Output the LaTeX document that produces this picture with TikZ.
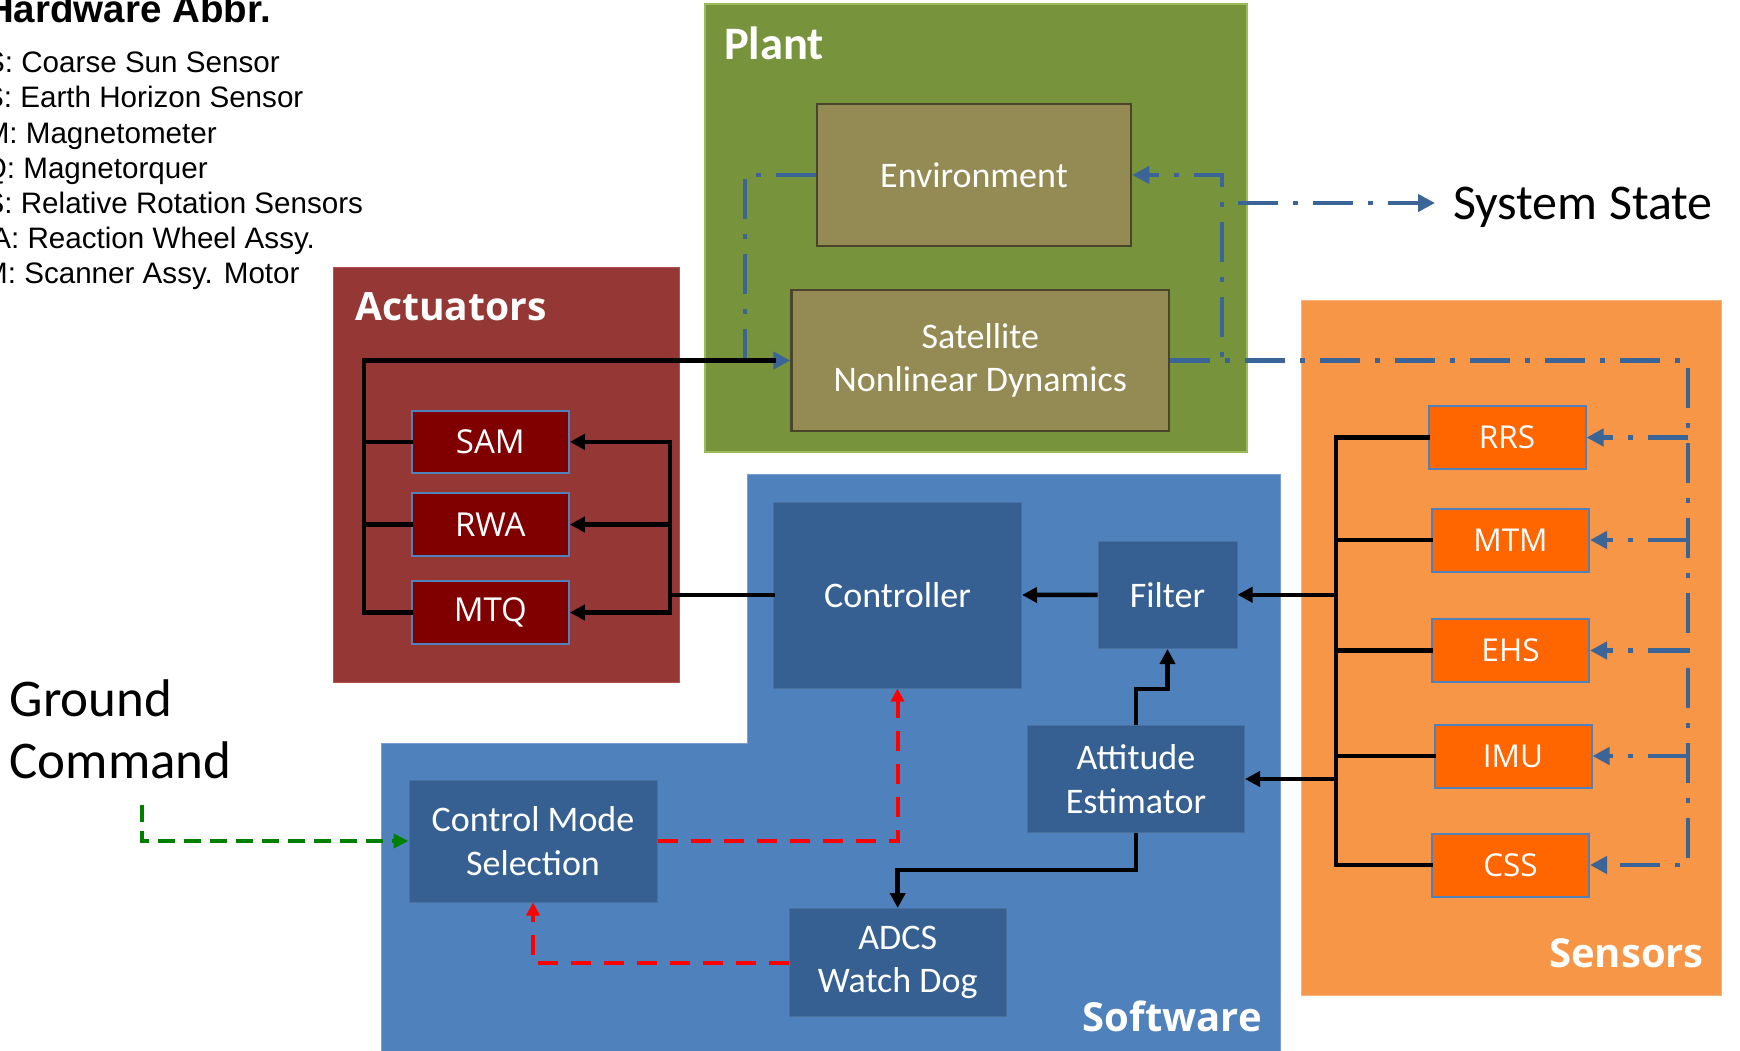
\documentclass[tikz,border=0pt]{standalone}
\usepackage{fontspec}
\setmainfont{Liberation Sans}
\newfontfamily\calfont{Carlito}
\newfontfamily\opfont{Open Sans}
\usetikzlibrary{arrows.meta,calc}

\definecolor{plantc}{HTML}{77933C}
\definecolor{plantedge}{HTML}{9BBB59}
\definecolor{envc}{HTML}{948A54}
\definecolor{envedge}{HTML}{4A452A}
\definecolor{actc}{HTML}{953735}
\definecolor{actedge}{HTML}{B9504D}
\definecolor{actin}{HTML}{800000}
\definecolor{swc}{HTML}{4F81BD}
\definecolor{swedge}{HTML}{7A9ED0}
\definecolor{swin}{HTML}{366092}
\definecolor{sensc}{HTML}{F79646}
\definecolor{sensedge}{HTML}{F9B27F}
\definecolor{sensin}{HTML}{FF6600}
\definecolor{boxedge}{HTML}{4F81BD}
\definecolor{ddc}{HTML}{3B6497}
\definecolor{redc}{HTML}{FF0000}
\definecolor{greenc}{HTML}{008000}

\begin{document}
\begin{tikzpicture}[x=1pt,y=-1pt,
  region/.style={inner sep=0pt,outer sep=0pt},
  blk/.style={line width=4.5pt,black,line cap=rect},
  blkarr/.style={line width=4.5pt,black,-{Triangle[length=15pt,width=15pt]}},
  ddash/.style={line width=4.3pt,color=ddc,dash pattern=on 40pt off 15pt on 5pt off 15pt},
  ddarr/.style={ddash,-{Triangle[length=17pt,width=17pt]}},
  reddash/.style={line width=4pt,color=redc,dash pattern=on 20pt off 13pt,-{Triangle[length=13pt,width=13pt]}},
  greendash/.style={line width=4pt,color=greenc,dash pattern=on 17pt off 9pt,-{Triangle[length=15pt,width=14pt]}},
  plantbox/.style={draw=envedge,line width=2.5pt,fill=envc,text=white,align=center,inner sep=0pt,
    font=\calfont\fontsize{36}{43.5}\selectfont},
  swbox/.style={draw=swin!90!white,line width=1pt,fill=swin,text=white,align=center,inner sep=0pt,
    font=\calfont\fontsize{36}{43.5}\selectfont},
  sensbox/.style={draw=boxedge,line width=2pt,fill=sensin,text=white,inner sep=0pt,
    minimum width=157pt,minimum height=63pt,font=\opfont\fontsize{31.5}{36}\selectfont},
  actbox/.style={draw=boxedge,line width=2pt,fill=actin,text=white,inner sep=0pt,
    minimum width=157pt,minimum height=62.5pt,font=\opfont\fontsize{33}{38}\selectfont},
  grouptitle/.style={inner sep=0pt,text=white,font=\opfont\bfseries\fontsize{40}{46}\selectfont},
  legend/.style={anchor=base west,inner sep=0pt,font=\fontsize{29.6}{35}\selectfont},
  bigtext/.style={anchor=base west,inner sep=0pt,font=\calfont\fontsize{53}{62}\selectfont},
]
\clip (0,0) rectangle (1740,1051);
\fill[white] (0,0) rectangle (1740,1051);

% ---------- legend ----------
\node[anchor=base west,inner sep=0pt,font=\bfseries\fontsize{38.5}{42}\selectfont] (legtitle) at (-14,23) {Hardware Abbr.};
\node[legend] (leg1) at (-15,72.7) {S: Coarse Sun Sensor};
\node[legend] (leg2) at (-16,107.9) {S: Earth Horizon Sensor};
\node[legend] (leg3) at (-15.4,143.1) {M: Magnetometer};
\node[legend] (leg4) at (-16.3,178.3) {Q: Magnetorquer};
\node[legend] (leg5) at (-15.5,213.5) {S: Relative Rotation Sensors};
\node[legend] (leg6) at (-8.8,248.7) {A: Reaction Wheel Assy.};
\node[legend] (leg7) at (-17,283.9) {M: Scanner Assy. Motor};

% ---------- group backgrounds ----------
\node[region,fill=plantc,draw=plantedge,line width=2pt,minimum width=542pt,minimum height=448pt] (plant) at (976,228) {};
\node[region,fill=actc,draw=actedge,line width=1pt,minimum width=346pt,minimum height=415pt] (act) at (506,474.5) {};
\node[region,fill=sensc,draw=sensedge,line width=1pt,minimum width=420pt,minimum height=695pt] (sens) at (1511,647.5) {};
\filldraw[fill=swc,draw=swedge,line width=1pt]
  (381,743.5) -- (747,743.5) -- (747,474) -- (1280,474) -- (1280,1060) -- (381,1060) -- cycle;

% ---------- group titles ----------
\node[anchor=base west,inner sep=0pt,text=white,font=\calfont\bfseries\fontsize{46.5}{52}\selectfont] (planttitle) at (724,60) {Plant};
\node[grouptitle,anchor=base west,font=\opfont\bfseries\fontsize{39}{45}\selectfont] (acttitle) at (355,320) {Actuators};
\node[grouptitle,anchor=base east] (swtitle) at (1262,1031) {Software};
\node[grouptitle,anchor=base east] (senstitle) at (1704,967) {Sensors};

% ---------- plant blocks ----------
\node[plantbox,minimum width=314pt,minimum height=142pt] (env) at (974,175) {Environment};
\node[plantbox,minimum width=377.5pt,minimum height=141pt] (sat) at (980.25,360.5) {Satellite\\Nonlinear Dynamics};

% ---------- actuators ----------
\node[actbox] (SAM) at (490.35,441.85) {SAM};
\node[actbox] (RWA) at (490.35,524.5) {RWA};
\node[actbox] (MTQ) at (490.35,612.5) {MTQ};

% ---------- sensors ----------
\node[sensbox] (RRS) at (1507,437.5) {RRS};
\node[sensbox] (MTM) at (1510.5,540) {MTM};
\node[sensbox] (EHS) at (1510.5,650.5) {EHS};
\node[sensbox] (IMU) at (1513,756) {IMU};
\node[sensbox] (CSS) at (1510.5,865) {CSS};

% ---------- software blocks ----------
\node[swbox,minimum width=248pt,minimum height=186pt] (ctrl) at (897.5,595) {Controller};
\node[swbox,minimum width=139pt,minimum height=107.5pt] (filter) at (1167.5,594.75) {Filter};
\node[swbox,minimum width=217pt,minimum height=106.7pt] (ae) at (1136,779) {Attitude\\Estimator};
\node[swbox,minimum width=216.6pt,minimum height=108.2pt] (adcs) at (897.7,962.6) {ADCS\\Watch Dog};
\node[swbox,minimum width=248pt,minimum height=122pt] (cms) at (533,841) {Control Mode\\Selection};

% ---------- free texts ----------
\node[anchor=base west,inner sep=0pt,font=\calfont\fontsize{50}{58}\selectfont] (sstate) at (1453,220) {System State};
\node[bigtext] (gnd1) at (9.5,716) {Ground};
\node[bigtext] (gnd2) at (9.5,778.5) {Command};

% ---------- bus positions ----------
\coordinate (aL) at (364,0);
\coordinate (aR) at (670,0);
\coordinate (sL) at (1336,0);
\coordinate (sR) at (1688,0);
\coordinate (pl) at (745,0);
\coordinate (pr) at (1222,0);
\coordinate (ssfrom) at (1238,203);
\coordinate (gc) at (142,805);

% ---------- plant loop (state feedback) ----------
\draw[ddarr] (env.west) -| (pl |- sat.west) -- (sat.west);
\draw[ddarr] (sat.east) -| (pr |- env.east) -- (env.east);
\draw[ddarr,shorten >=18pt] (ssfrom) -- (ssfrom -| sstate.west);

% ---------- state to sensors ----------
\draw[ddarr] (sat.east) -| (sR |- CSS.east) -- (CSS.east);
\draw[ddarr] (sR |- RRS.east) -- (RRS.east);
\draw[ddarr] (sR |- MTM.east) -- (MTM.east);
\draw[ddarr] (sR |- EHS.east) -- (EHS.east);
\draw[ddarr] (sR |- IMU.east) -- (IMU.east);

% ---------- actuators to plant ----------
\draw[blk,shorten >=17pt] (MTQ.west) -- (MTQ.west -| aL) |- (sat.west);
\draw[blk] (SAM.west) -- (SAM.west -| aL);
\draw[blk] (RWA.west) -- (RWA.west -| aL);

% ---------- controller to actuators ----------
\draw[blk] (ctrl.west) -- (ctrl.west -| aR);
\draw[blk] (aR |- SAM.east) -- (aR |- MTQ.east);
\draw[blkarr] (aR |- SAM.east) -- (SAM.east);
\draw[blkarr] (aR |- RWA.east) -- (RWA.east);
\draw[blkarr] (aR |- MTQ.east) -- (MTQ.east);

% ---------- sensors to software ----------
\draw[blk] (RRS.west) -- (RRS.west -| sL) -- (sL |- CSS.west) -- (CSS.west);
\draw[blk] (MTM.west) -- (MTM.west -| sL);
\draw[blk] (EHS.west) -- (EHS.west -| sL);
\draw[blk] (IMU.west) -- (IMU.west -| sL);
\draw[blkarr] (sL |- filter.east) -- (filter.east);
\draw[blkarr] (sL |- ae.east) -- (ae.east);

% ---------- software internal flow ----------
\draw[blkarr] (filter.west) -- (ctrl.east);
\draw[blkarr] (ae.north) |- ($(filter.south)+(0,40)$) -- (filter.south);
\draw[blkarr] (ae.south) |- ($(adcs.north)+(0,-38)$) -- (adcs.north);

% ---------- mode logic ----------
\draw[reddash] (cms.east) -| (ctrl.south);
\draw[reddash] (adcs.west) -| (cms.south);
\draw[greendash] (gc) |- (cms.west);
\end{tikzpicture}
\end{document}
